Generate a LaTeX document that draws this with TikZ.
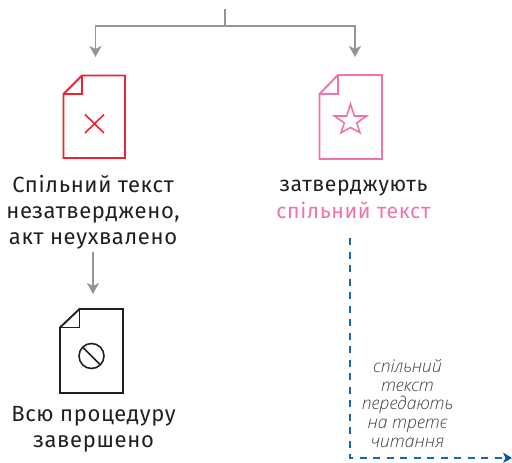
\documentclass[tikz,border=0pt]{standalone}
\usepackage{fontspec}
\setmainfont[LetterSpace=3]{Fira Sans}
\newfontfamily\notefont{Open Sans Light}
\usetikzlibrary{arrows.meta}
\definecolor{flowgray}{HTML}{939598}
\definecolor{docred}{HTML}{EE2233}
\definecolor{docpink}{HTML}{F173AC}
\definecolor{docblack}{HTML}{231F20}
\definecolor{flowblue}{HTML}{1C66AE}
\definecolor{headblue}{HTML}{0054A6}
\definecolor{notegray}{HTML}{414042}
\tikzset{
  x=1pt,y=-1pt,
  flow/.style={draw=flowgray,line width=1.8pt,-{Stealth[length=11pt,width=12pt,inset=3pt]}},
  flowplain/.style={draw=flowgray,line width=1.8pt},
  dashflow/.style={draw=flowblue,line width=1.5pt,dash pattern=on 7pt off 6.5pt},
  doc/.style={line width=1.9pt,line join=miter},
  mainlabel/.style={align=center,inner sep=0pt,text=docblack,font=\fontsize{22}{26}\selectfont},
  pinklabel/.style={align=center,inner sep=0pt,text=docblack,font=\fontsize{21.2}{27}\selectfont},
  notelabel/.style={align=center,inner sep=0pt,text=notegray,font=\notefont\itshape\fontsize{17.5}{18.7}\selectfont},
}
\begin{document}
\begin{tikzpicture}
\useasboundingbox (0,0) rectangle (512,463);
% labels
\node[mainlabel] (t1) at (93,212.5) {Спільний текст\\незатверджено,\\акт неухвалено};
\node[pinklabel] (t2) at (353.5,199) {затверджують\\\textcolor{docpink}{спільний текст}};
\node[mainlabel] (t3) at (93.5,429) {Всю процедуру\\завершено};
\node[notelabel] (t4) at (407.5,403.5) {спільний\\текст\\передають\\на третє\\читання};
% connector points
\coordinate (top) at (225,9);
\coordinate (fork) at (225,26);
\coordinate (inL) at (95.5,57);
\coordinate (inR) at (355,57);
\coordinate (t1out) at (93,252);
\coordinate (inB) at (93,294);
\coordinate (dashstart) at (350,238);
\coordinate (dashcorner) at (350,458);
\coordinate (dashend) at (512,458);
% connectors
\draw[flowplain] (top) -- (fork);
\draw[flow] (fork) -| (inL);
\draw[flow] (fork) -| (inR);
\draw[flow] (t1out) -- (inB);
\draw[dashflow] (dashstart) -- (dashcorner) -- ([xshift=-7pt]dashend);
\fill[headblue] (dashend) -- (503,452.5) -- (505.5,458) -- (503,463) -- cycle;
% red document
\draw[doc,docred] (82,75.5) -- (125,75.5) -- (125,158) -- (63.5,158) -- (63.5,94) -- cycle;
\draw[doc,docred] (63.5,94) -- (82,94) -- (82,75.5);
\draw[docred,line width=1.6pt] (85,114.5) -- (104,133) (104,114.5) -- (85,133);
% pink document
\draw[doc,docpink] (338,75) -- (382,75) -- (382,159) -- (319.5,159) -- (319.5,94) -- cycle;
\draw[doc,docpink] (319.5,94) -- (338,94) -- (338,75);
\draw[docpink,line width=1.6pt,line join=miter] (350.5,104) -- (354.3,116) -- (366.5,116) -- (356.7,123) -- (360,132.7) -- (350.5,127.5) -- (341,132.7) -- (344.3,123) -- (334.5,116) -- (346.7,116) -- cycle;
% black document
\draw[doc,docblack] (79.5,309) -- (123,309) -- (123,393) -- (60,393) -- (60,327.5) -- cycle;
\draw[doc,docblack] (60,327.5) -- (79.5,327.5) -- (79.5,309);
\draw[docblack,line width=1.6pt] (91.5,356) circle (12.5);
\draw[docblack,line width=1.6pt] (82.7,347.2) -- (100.3,364.8);
\end{tikzpicture}
\end{document}
